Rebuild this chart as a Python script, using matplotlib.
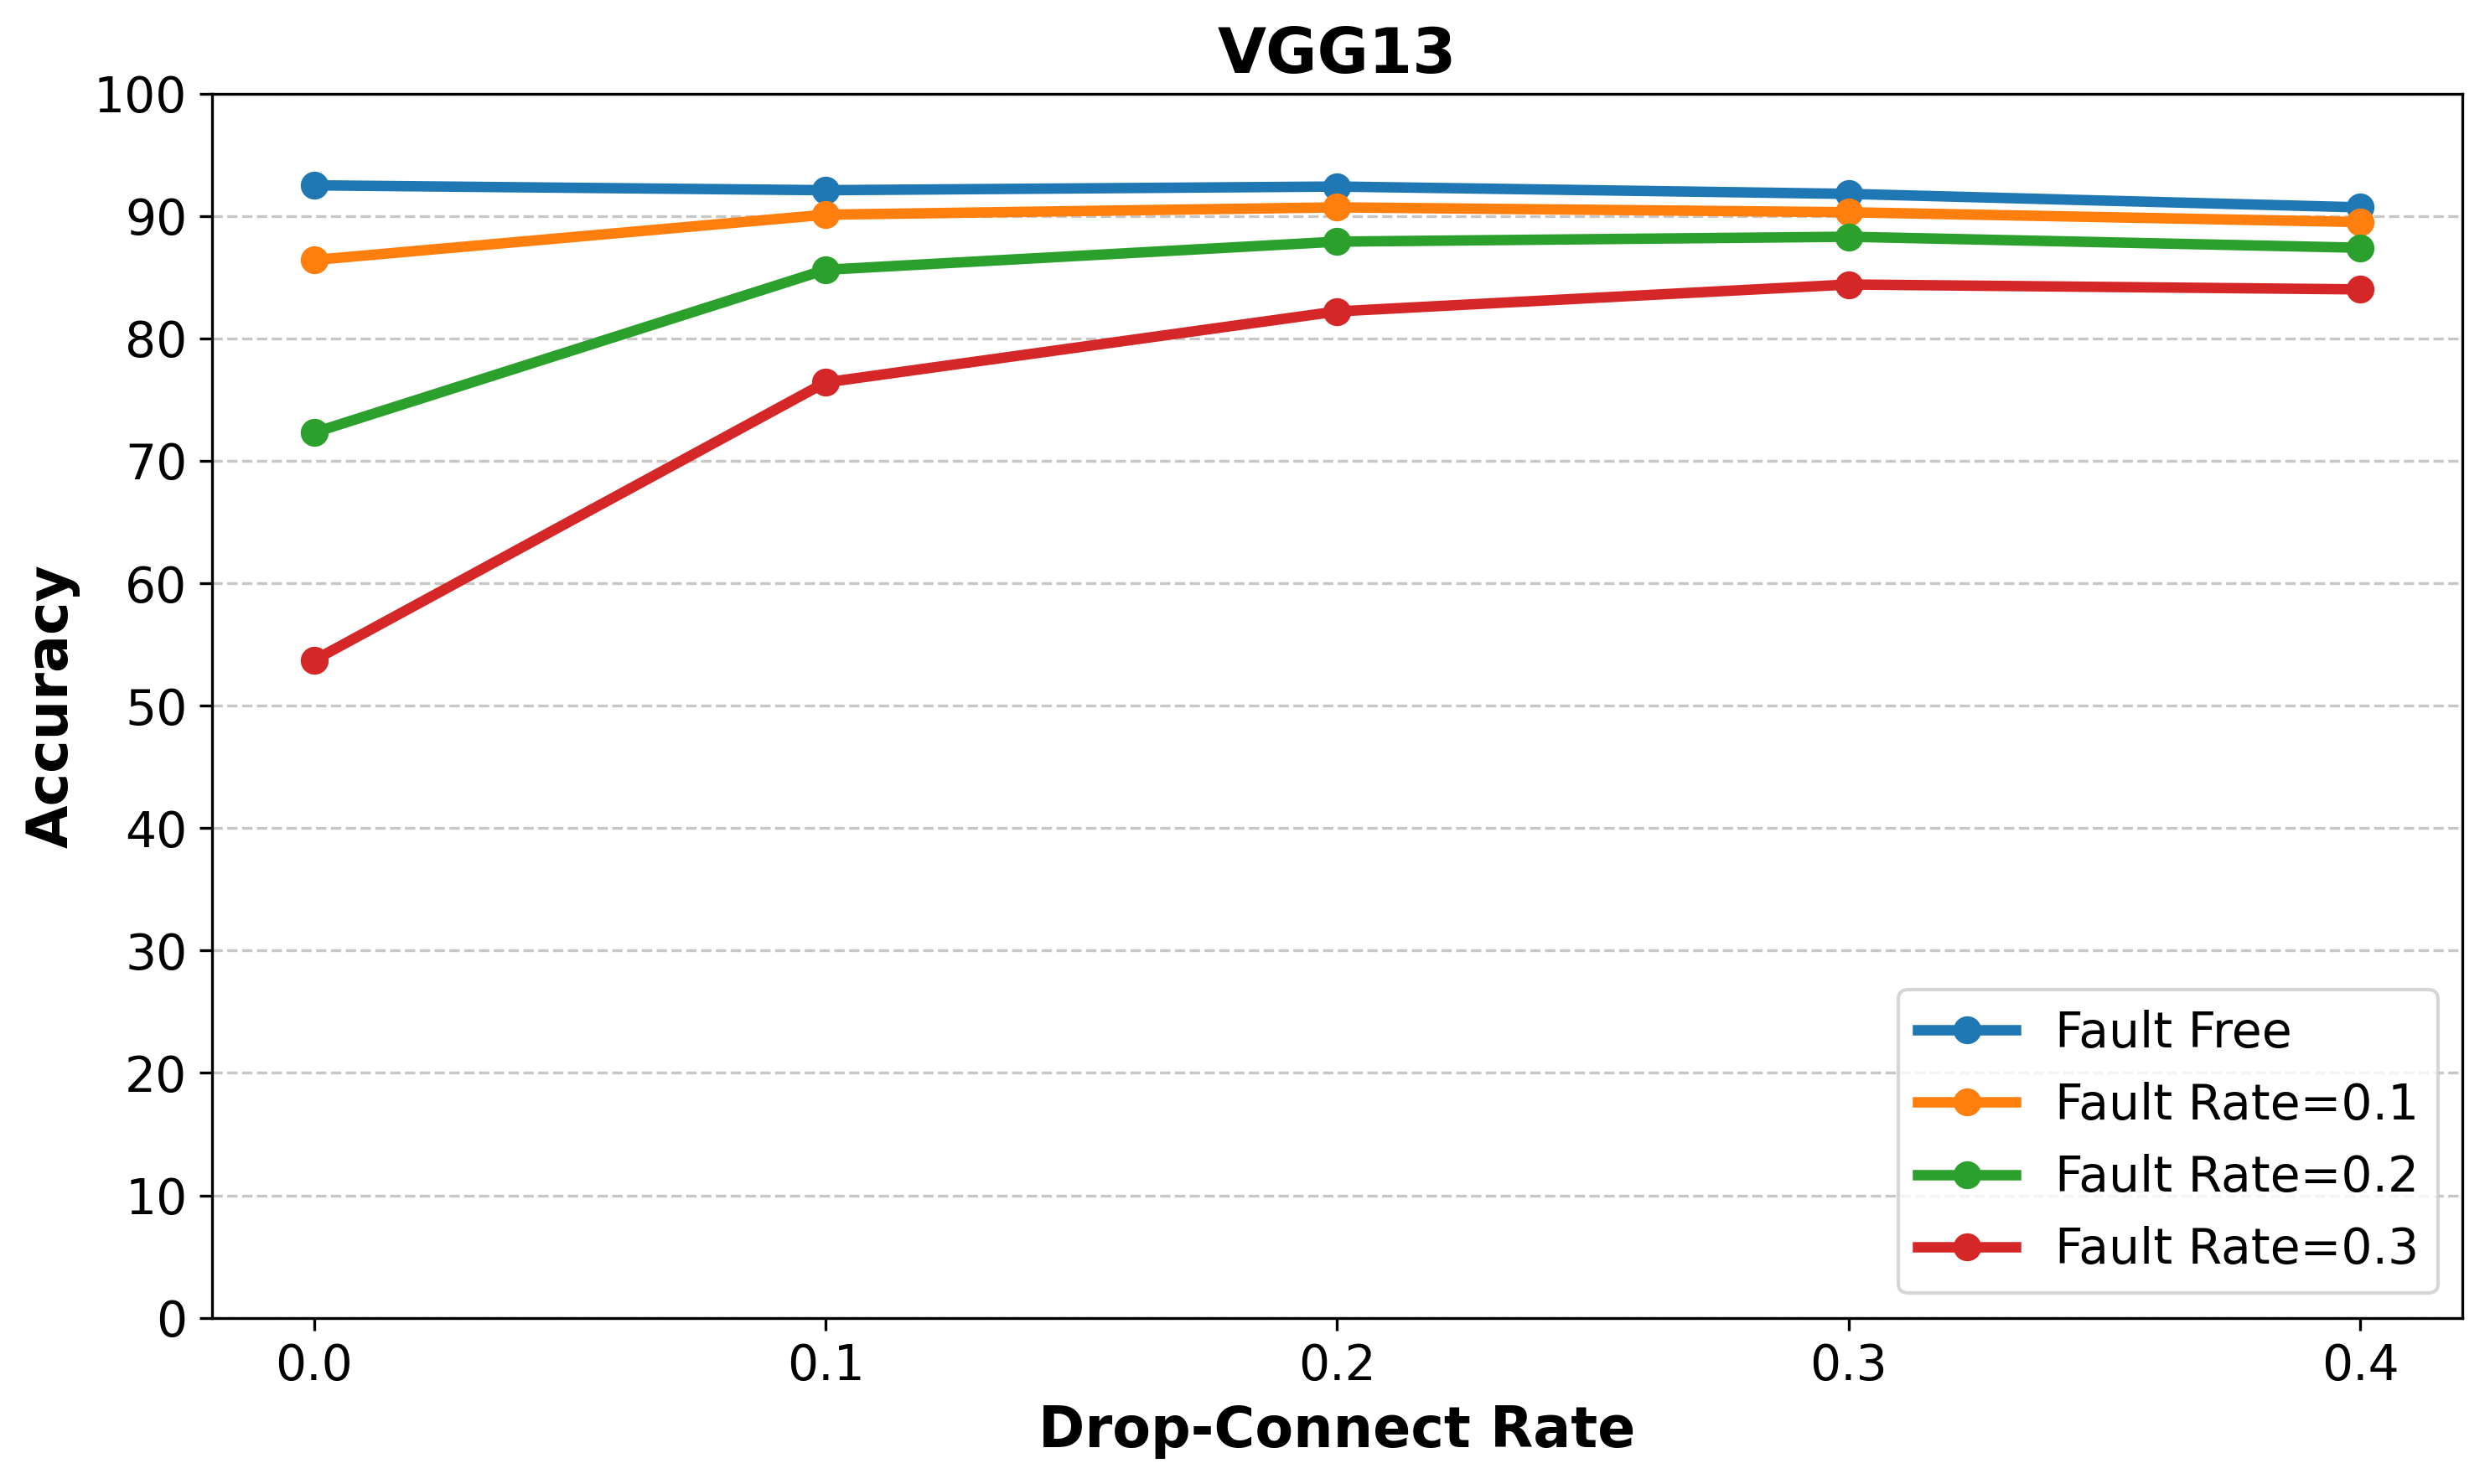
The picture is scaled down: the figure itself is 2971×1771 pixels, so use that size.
import matplotlib
matplotlib.use('Agg')
from matplotlib import pyplot as plt

drop_rates = [0.0, 0.1, 0.2, 0.3, 0.4]
fault_free = [92.5, 92.1, 92.4, 91.8, 90.7]
fault_01 = [86.4, 90.1, 90.7, 90.3, 89.5]
fault_02 = [72.3, 85.6, 87.9, 88.3, 87.4]
fault_03 = [53.7, 76.4, 82.2, 84.4, 84.0]
labels = ['Fault Free', 'Fault Rate=0.1', 'Fault Rate=0.2', 'Fault Rate=0.3']

fig = plt.figure(figsize=(2971 / 300, 1771 / 300), dpi=300)
ax = fig.add_subplot(111)

for series, label in zip([fault_free, fault_01, fault_02, fault_03], labels):
    ax.plot(drop_rates, series, marker='o', linewidth=3, markersize=7, label=label)

ax.set_title('VGG13', fontsize=18, fontweight='bold')
ax.set_xlabel('Drop-Connect Rate', fontsize=16, fontweight='bold')
ax.set_ylabel('Accuracy', fontsize=16, fontweight='bold')
ax.set_xticks(drop_rates)
ax.set_ylim(0, 100)
ax.set_yticks(range(0, 101, 10))
ax.tick_params(labelsize=14)
ax.grid(axis='y', linestyle='--', alpha=0.7)
ax.legend(fontsize=14, loc='lower right')

fig.subplots_adjust(left=0.085, right=0.989, top=0.937, bottom=0.112)
fig.savefig('out.png', dpi=300)
